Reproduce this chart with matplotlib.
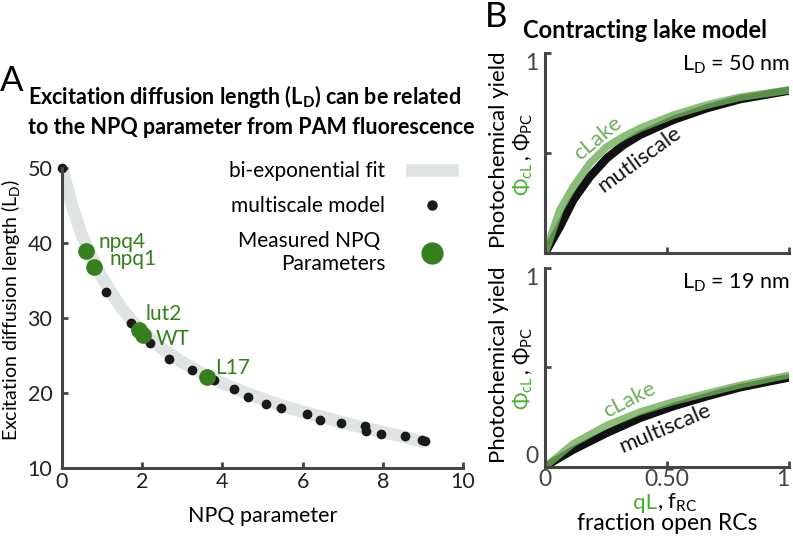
import matplotlib
matplotlib.use("Agg")
import matplotlib.pyplot as plt
from matplotlib.lines import Line2D

plt.rcParams['font.family'] = ['Lato', 'DejaVu Sans']
plt.rcParams['mathtext.fontset'] = 'custom'
plt.rcParams['mathtext.rm'] = 'Lato'
plt.rcParams['mathtext.bf'] = 'Lato:bold'
plt.rcParams['mathtext.it'] = 'Lato:italic'

# ---------------- data ----------------
# panel A: bi-exponential fit (read along the grey band)
fit_x = [0, 0.25, 0.5, 0.75, 1.0, 1.25, 1.5, 1.75, 2.0, 2.5, 3.0, 3.5, 4.0,
         4.5, 5.0, 5.5, 6.0, 6.5, 7.0, 7.5, 8.0, 8.5, 9.05]
fit_y = [50, 45.0, 41.0, 38.0, 35.4, 33.2, 31.2, 29.6, 28.2, 25.9, 24.1, 22.6,
         21.3, 20.2, 19.2, 18.3, 17.5, 16.8, 16.1, 15.4, 14.8, 14.2, 13.4]

# panel A: multiscale model points
ms_x = [0, 1.1, 1.72, 2.2, 2.66, 3.23, 3.78, 4.28, 4.64, 5.09, 5.47, 6.12,
        6.43, 6.95, 7.56, 7.59, 7.95, 8.56, 8.97, 9.06]
ms_y = [50, 33.5, 29.3, 26.7, 24.5, 23.1, 21.7, 20.5, 19.5, 18.5, 18.0, 17.2,
        16.4, 16.0, 15.6, 15.0, 14.6, 14.3, 13.8, 13.6]

# panel A: measured NPQ parameters
npq_names = ['npq4', 'npq1', 'lut2', 'WT', 'L17']
npq_x = [0.6, 0.81, 1.91, 2.02, 3.62]
npq_y = [39.0, 36.8, 28.4, 27.7, 22.2]

# panel B: yields vs fraction open RCs
qx = [0, 0.061, 0.116, 0.184, 0.253, 0.321, 0.389, 0.525, 0.662, 0.798, 1.0]
clake_50 = [0, 0.216, 0.332, 0.449, 0.531, 0.581, 0.623, 0.689, 0.739, 0.778, 0.814]
multi_50 = [0, 0.133, 0.266, 0.382, 0.474, 0.540, 0.590, 0.665, 0.723, 0.768, 0.811]

qx2 = [0, 0.116, 0.253, 0.389, 0.525, 0.662, 0.798, 1.0]
clake_19 = [0, 0.117, 0.209, 0.276, 0.327, 0.369, 0.410, 0.461]
multi_19 = [0, 0.084, 0.168, 0.243, 0.302, 0.352, 0.397, 0.447]

# ---------------- style ----------------
green = '#367f1f'
bgreen = '#44b02a'
lgreen = '#6fae5a'
grey_fit = '#dfe3e3'
spine = '#454545'
W, H = 793, 543


def fx(x):
    return x / W


def fy(y):
    return 1 - y / H


fig = plt.figure(figsize=(W / 100, H / 100), dpi=100)
renderer = fig.canvas.get_renderer()


def style_axes(ax, labelsize=15, labelcolor='#222222'):
    ax.spines[['top', 'right']].set_visible(False)
    for s in ['left', 'bottom']:
        ax.spines[s].set_color(spine)
        ax.spines[s].set_linewidth(2.2)
    ax.tick_params(direction='in', length=4, width=2, color=spine,
                   labelsize=labelsize, labelcolor=labelcolor)


# ---------------- panel A ----------------
axA = fig.add_axes([fx(62), fy(468), 401 / W, 300 / H])
axA.plot(fit_x, fit_y, color=grey_fit, lw=9, solid_capstyle='butt', zorder=1)
axA.plot(ms_x, ms_y, 'o', color='#1a1a1a', ms=6, zorder=2, clip_on=False)
axA.plot(npq_x, npq_y, 'o', color=green, ms=11, zorder=3)

offsets = {'npq4': (12, 9), 'npq1': (15, 8), 'lut2': (7, 16),
           'WT': (13, -4), 'L17': (8, 9)}
for name, x, y in zip(npq_names, npq_x, npq_y):
    axA.annotate(name, (x, y), xytext=offsets[name], textcoords='offset pixels',
                 ha='left', va='center', color=green, fontsize=15)

axA.set_xlim(0, 10)
axA.set_ylim(10, 50)
axA.set_xticks([0, 2, 4, 6, 8, 10])
axA.set_yticks([10, 20, 30, 40, 50])
style_axes(axA, labelsize=15.5)
axA.tick_params(axis='x', pad=3)
axA.tick_params(axis='y', pad=7)
axA.set_xlabel('NPQ parameter', fontsize=15.5, labelpad=10)

fig.text(fx(17), fy(310), r'Excitation diffusion length (L$_\mathrm{D}$)',
         rotation=90, rotation_mode='anchor', ha='center', va='baseline',
         fontsize=14)

h1 = Line2D([], [], color=grey_fit, lw=9)
h2 = Line2D([], [], ls='none', marker='o', color='#1a1a1a', ms=6.5)
h3 = Line2D([], [], ls='none', marker='o', color=green, ms=15)
leg = axA.legend([h1, h2, h3],
                 ['bi-exponential fit', 'multiscale model', 'Measured NPQ \nParameters'],
                 loc='upper right', bbox_to_anchor=(0.9726, 1.022), frameon=False,
                 markerfirst=False, fontsize=15, handlelength=1.9,
                 handletextpad=1.3, labelspacing=0.7, borderpad=0, borderaxespad=0)
for t in leg.get_texts():
    t.set_multialignment('right')

fig.text(fx(0), fy(81), 'A', fontsize=25, ha='left', va='center')
fig.text(fx(28), fy(97), r'Excitation diffusion length (L$_\mathbf{D}$) can be related',
         fontsize=15.5, fontweight='bold', ha='left', va='center')
fig.text(fx(28), fy(127), 'to the NPQ parameter from PAM fluorescence',
         fontsize=15.5, fontweight='bold', ha='left', va='center')

# ---------------- panel B ----------------
axT = fig.add_axes([fx(545), fy(253.3), 244.3 / W, 200.6 / H])
axB = fig.add_axes([fx(545), fy(466.7), 244.3 / W, 199 / H])

axT.plot(qx, multi_50, color='#111111', lw=6, solid_capstyle='butt')
axT.plot(qx, clake_50, color=lgreen, lw=5.5, alpha=0.8, solid_capstyle='butt')
axB.plot(qx2, multi_19, color='#111111', lw=5.5, solid_capstyle='butt')
axB.plot(qx2, clake_19, color=lgreen, lw=5, alpha=0.8, solid_capstyle='butt')

for ax in (axT, axB):
    ax.set_xlim(0, 1)
    ax.set_ylim(0, 1)
    ax.set_xticks([0, 0.5, 1])
    ax.set_yticks([0, 0.5, 1])
    style_axes(ax, labelsize=16.5, labelcolor='#444444')
    ax.tick_params(axis='y', pad=5)

axT.set_xticklabels(['', '', ''])
axT.set_yticklabels(['', '', '1'])
axT.get_yticklabels()[2].set_va('top')
axB.set_xticklabels(['0', '0.50', '1'])
axB.get_xticklabels()[2].set_ha('right')
axB.set_yticklabels(['0', '', '1'])
axB.get_yticklabels()[0].set_va('bottom')
axB.get_yticklabels()[2].set_va('top')
axB.tick_params(axis='x', pad=2)

axT.text(1.0, 0.94, r'L$_\mathrm{D}$ = 50 nm', transform=axT.transAxes,
         ha='right', va='center', fontsize=15.5)
axB.text(1.0, 0.923, r'L$_\mathrm{D}$ = 19 nm', transform=axB.transAxes,
         ha='right', va='center', fontsize=15.5)

axT.text(0.217, 0.575, 'cLake', rotation=40, color=lgreen, fontsize=16,
         ha='center', va='center', rotation_mode='anchor')
axT.text(0.385, 0.47, 'mutliscale', rotation=36, color='#111111', fontsize=16,
         ha='center', va='center', rotation_mode='anchor')
axB.text(0.345, 0.335, 'cLake', rotation=27, color=lgreen, fontsize=16,
         ha='center', va='center', rotation_mode='anchor')
axB.text(0.49, 0.195, 'multiscale', rotation=23, color='#111111', fontsize=16,
         ha='center', va='center', rotation_mode='anchor')

fig.text(fx(485), fy(17), 'B', fontsize=25, ha='left', va='center')
fig.text(fx(523), fy(30), 'Contracting lake model', fontsize=17,
         fontweight='bold', ha='left', va='center')

# y labels of panel B
for yc, phi_start in ((150, 196), (365, 410)):
    fig.text(fx(505), fy(yc), 'Photochemical yield', rotation=90,
             rotation_mode='anchor', ha='center', va='baseline', fontsize=16)
    t1 = fig.text(fx(523), fy(phi_start), r'$\Phi_{\mathrm{cL}}$', rotation=90,
                  rotation_mode='anchor', ha='left', va='center', fontsize=15,
                  color=bgreen)
    top = t1.get_window_extent(renderer).y1
    fig.text(fx(523), (top + 1) / H, r', $\Phi_{\mathrm{PC}}$', rotation=90,
             rotation_mode='anchor', ha='left', va='center', fontsize=15)

# x label of panel B
fig.text(fx(657), fy(503), 'qL', ha='right', va='center', fontsize=16, color=bgreen)
fig.text(fx(657), fy(503), r', f$_{\mathrm{RC}}$', ha='left', va='center', fontsize=16)
fig.text(fx(667), fy(524), 'fraction open RCs', ha='center', va='center', fontsize=16.5)

fig.savefig('out.png', dpi=100)
